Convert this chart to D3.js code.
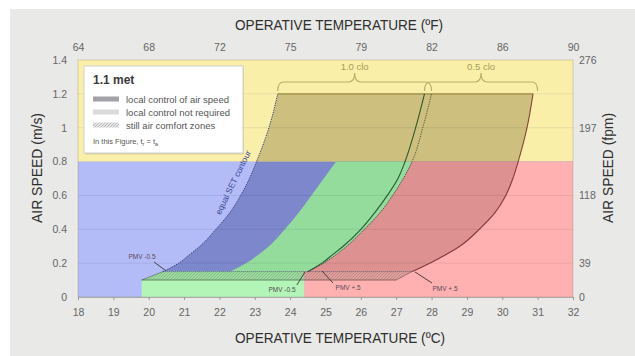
<!DOCTYPE html>
<html>
<head>
<meta charset="UTF-8">
<title>Operative temperature vs air speed</title>
<style>
  body { margin: 0; background: #fff; font-family: "Liberation Sans", Arial, sans-serif; }
  .axis text { fill: #666; font-size: 10.5px; font-family: "Liberation Sans", Arial, sans-serif; }
  .axis line { stroke: #999; }
  .title { fill: #2e2e2e; font-size: 14.5px; }
</style>
</head>
<body>
<svg id="chart" width="635" height="356"></svg>
<script src="https://cdnjs.cloudflare.com/ajax/libs/d3/7.8.5/d3.min.js"></script>
<script>
// ticks
const tempTicks = [18, 19, 20, 21, 22, 23, 24, 25, 26, 27, 28, 29, 30, 31, 32];
const fahrTicksC = [18, 20, 22, 24, 26, 28, 30, 32];
const fahrLabels = ["64", "68", "72", "75", "79", "82", "86", "90"];
const speedTicks = [0, 0.2, 0.4, 0.6, 0.8, 1, 1.2, 1.4];
const fpmTicks = [0, 0.2, 0.6, 1.0, 1.4];
const fpmLabels = ["0", "39", "118", "197", "276"];

// curves: [temperature degC, air speed m/s]
const setLeft10 = [[20.4, 0.15], [20.85, 0.2], [21.15, 0.25], [21.45, 0.3], [21.9, 0.4], [22.3, 0.5], [22.6, 0.6], [22.85, 0.7], [23.05, 0.8], [23.4, 1.0], [23.65, 1.2]];
const coldEdge = [[22.3, 0.15], [22.75, 0.2], [23.1, 0.25], [23.4, 0.3], [23.85, 0.4], [24.25, 0.5], [24.6, 0.6], [24.95, 0.7], [25.3, 0.8]];
const setRight10 = [[24.5, 0.15], [24.9, 0.2], [25.2, 0.25], [25.5, 0.3], [26.0, 0.4], [26.4, 0.5], [26.75, 0.6], [27.05, 0.7], [27.25, 0.8], [27.55, 1.0], [27.8, 1.2]];
const setLeft05 = [[24.5, 0.15], [24.95, 0.2], [25.3, 0.25], [25.6, 0.3], [26.1, 0.4], [26.55, 0.5], [26.9, 0.6], [27.2, 0.7], [27.45, 0.8], [27.75, 1.0], [28.0, 1.2]];
const setRight05 = [[27.45, 0.15], [27.95, 0.2], [28.4, 0.25], [28.8, 0.3], [29.35, 0.4], [29.8, 0.5], [30.1, 0.6], [30.3, 0.7], [30.45, 0.8], [30.7, 1.0], [30.87, 1.2]];
const stillAir = [[19.8, 0.1], [27.0, 0.1], [27.45, 0.15], [20.4, 0.15]];
const greenLow = [19.8, 24.4];
const limitSpeed = 0.8;

// brackets and annotations
const brackets = [
  { label: "1.0 clo", from: 23.65, to: 28.0 },
  { label: "0.5 clo", from: 27.8, to: 31.0 }
];
const pmvNotes = [
  { text: "PMV -0.5", at: [19.81, 0.236], from: [20.15, 0.207], tip: [20.49, 0.154] },
  { text: "PMV -0.5", at: [23.77, 0.041], from: [24.19, 0.071], tip: [24.42, 0.148] },
  { text: "PMV +.5", at: [25.64, 0.053], from: [25.21, 0.083], tip: [24.9, 0.154] },
  { text: "PMV +.5", at: [28.38, 0.047], from: [28.01, 0.083], tip: [27.53, 0.148] }
];

const svg = d3.select("#chart");
const x = d3.scaleLinear().domain([18, 32]).range([78, 573]);
const y = d3.scaleLinear().domain([0, 1.4]).range([297, 60]);

const line = d3.line().x(d => x(d[0])).y(d => y(d[1])).curve(d3.curveMonotoneY);
const seg = pts => line(pts).replace(/^M/, "L");
const pt = (t, v) => `${x(t)},${y(v)}`;
const upTo = (pts, v) => pts.filter(d => d[1] <= v);

// grey panel
svg.append("rect").attr("x", 10).attr("y", 9).attr("width", 625).attr("height", 347).attr("fill", "#e9e9e7");

const defs = svg.append("defs");
const pat = defs.append("pattern").attr("id", "hatch").attr("patternUnits", "userSpaceOnUse")
  .attr("width", 3).attr("height", 3);
pat.append("rect").attr("width", 3).attr("height", 3).attr("fill", "rgba(0,30,0,0.13)");
pat.append("path").attr("d", "M0,3L3,0M-1,1L1,-1M2,4L4,2").attr("stroke", "rgba(0,0,0,0.2)").attr("stroke-width", 0.6);

const lpat = defs.append("pattern").attr("id", "lhatch").attr("patternUnits", "userSpaceOnUse")
  .attr("width", 3).attr("height", 3);
lpat.append("rect").attr("width", 3).attr("height", 3).attr("fill", "#e4e4e4");
lpat.append("path").attr("d", "M0,3L3,0M-1,1L1,-1M2,4L4,2").attr("stroke", "#aaa").attr("stroke-width", 0.7);

// background regions
const bluePath = "M" + pt(18, 0) + "L" + pt(32, 0) + "L" + pt(32, limitSpeed) + "L" + pt(18, limitSpeed) + "Z";
const yellowPath = "M" + pt(18, limitSpeed) + "L" + pt(32, limitSpeed) + "L" + pt(32, 1.4) + "L" + pt(18, 1.4) + "Z";
const l05 = upTo(setLeft05, limitSpeed);
const greenPath = "M" + pt(greenLow[0], 0) + "L" + pt(greenLow[1], 0) + "L" + pt(greenLow[1], 0.15) +
  seg(l05) + seg(coldEdge.slice().reverse()) + "L" + pt(stillAir[3][0], 0.15) + "L" + pt(stillAir[0][0], 0.1) + "Z";
const redPath = "M" + pt(greenLow[1], 0) + "L" + pt(32, 0) + "L" + pt(32, limitSpeed) +
  seg(l05.slice().reverse()) + "L" + pt(greenLow[1], 0.15) + "Z";

const regions = [
  { d: bluePath, light: "#b4bcf7", dark: "#7c87cc" },
  { d: yellowPath, light: "#faefa9", dark: "#cdc07f" },
  { d: greenPath, light: "#b2f5b6", dark: "#93dc9c" },
  { d: redPath, light: "#ffb1b1", dark: "#dd9191" }
];
svg.append("g").selectAll("path").data(regions).join("path")
  .attr("d", d => d.d).attr("fill", d => d.light);

// zone where air speed is controlled locally
const zonePath = line(setLeft10) + seg(setRight05.slice().reverse()) + "Z";
defs.append("clipPath").attr("id", "zoneClip").append("path").attr("d", zonePath);
svg.append("g").attr("clip-path", "url(#zoneClip)").selectAll("path").data(regions).join("path")
  .attr("d", d => d.d).attr("fill", d => d.dark);

// grid
svg.append("g").selectAll("line").data(speedTicks.filter(v => v > 0 && v < 1.4)).join("line")
  .attr("x1", x(18)).attr("x2", x(32)).attr("y1", d => y(d)).attr("y2", d => y(d))
  .attr("stroke", "rgba(0,0,40,0.08)").attr("stroke-width", 1);

// still air band
svg.append("path").attr("d", "M" + stillAir.map(d => pt(d[0], d[1])).join("L") + "Z")
  .attr("fill", "url(#hatch)");
svg.append("path").attr("d", "M" + pt(stillAir[0][0], 0.1) + "L" + pt(stillAir[1][0], 0.1))
  .attr("stroke", "rgba(0,0,0,0.5)").attr("stroke-width", 0.8);
svg.append("path").attr("d", "M" + pt(stillAir[3][0], 0.15) + "L" + pt(stillAir[2][0], 0.15))
  .attr("stroke", "rgba(0,0,0,0.4)").attr("stroke-width", 0.7).attr("stroke-dasharray", "1,1");
svg.append("path").attr("d", "M" + pt(stillAir[0][0], 0.1) + "L" + pt(stillAir[3][0], 0.15) +
    "M" + pt(stillAir[1][0], 0.1) + "L" + pt(stillAir[2][0], 0.15))
  .attr("stroke", "rgba(0,0,0,0.45)").attr("stroke-width", 0.7);

// zone outlines
svg.append("path").attr("d", "M" + pt(setLeft10[setLeft10.length - 1][0], 1.2) + "L" + pt(setRight05[setRight05.length - 1][0], 1.2))
  .attr("stroke", "#9c8c45").attr("stroke-width", 1.2);
svg.append("path").attr("d", line(setLeft10)).attr("fill", "none")
  .attr("stroke", "#34407e").attr("stroke-width", 1).attr("stroke-dasharray", "1.3,1.1");
svg.append("path").attr("d", line(setRight10)).attr("fill", "none")
  .attr("stroke", "rgba(20,70,30,0.85)").attr("stroke-width", 1.1);
svg.append("path").attr("d", line(setLeft05)).attr("fill", "none")
  .attr("stroke", "rgba(40,50,30,0.8)").attr("stroke-width", 0.9).attr("stroke-dasharray", "1.3,1.1");
svg.append("path").attr("d", line(setRight05)).attr("fill", "none")
  .attr("stroke", "rgba(110,35,35,0.8)").attr("stroke-width", 1.1);

// plot frame
svg.append("rect").attr("x", x(18)).attr("y", y(1.4)).attr("width", x(32) - x(18)).attr("height", y(0) - y(1.4))
  .attr("fill", "none").attr("stroke", "rgba(120,110,60,0.25)");

// equal SET contour label
const a0 = [22.2, 0.44], a1 = [23.2, 0.87];
const ang = Math.atan2(y(a1[1]) - y(a0[1]), x(a1[0]) - x(a0[0])) * 180 / Math.PI;
svg.append("text").attr("transform", `translate(${x(22.62) - 4},${y(0.665)}) rotate(${ang})`)
  .attr("text-anchor", "middle").attr("dy", "-0.2em")
  .attr("font-size", 8.5).attr("fill", "#3b4898").text("equal SET contour");

// PMV notes
const notes = svg.append("g");
notes.selectAll("line").data(pmvNotes).join("line")
  .attr("x1", d => x(d.from[0])).attr("y1", d => y(d.from[1]))
  .attr("x2", d => x(d.tip[0])).attr("y2", d => y(d.tip[1]))
  .attr("stroke", "#3a3030").attr("stroke-width", 0.9);
notes.selectAll("text").data(pmvNotes).join("text")
  .attr("x", d => x(d.at[0])).attr("y", d => y(d.at[1])).attr("dy", "0.35em")
  .attr("text-anchor", "middle").attr("font-size", 6.5).attr("fill", "#5a4a55").text(d => d.text);

// brackets
const brk = svg.append("g");
brackets.forEach(b => {
  const x0 = x(b.from), x1 = x(b.to), xm = (x0 + x1) / 2;
  const yb = 82, ye = 91, yc = 73;
  brk.append("path")
    .attr("d", `M${x0},${ye}Q${x0},${yb} ${x0 + 6},${yb}L${xm - 6},${yb}Q${xm},${yb} ${xm},${yc}Q${xm},${yb} ${xm + 6},${yb}L${x1 - 6},${yb}Q${x1},${yb} ${x1},${ye}`)
    .attr("fill", "none").attr("stroke", "#bcae66").attr("stroke-width", 1.2);
  brk.append("text").attr("x", xm).attr("y", 70).attr("text-anchor", "middle")
    .attr("font-size", 9.5).attr("fill", "#a99b58").text(b.label);
});

// axes
const axBottom = svg.append("g").attr("class", "axis").attr("transform", `translate(0,${y(0)})`)
  .call(d3.axisBottom(x).tickValues(tempTicks).tickSize(3).tickPadding(9).tickFormat(d3.format("d")));
axBottom.select(".domain").attr("stroke", "#aaa");

const axTop = svg.append("g").attr("class", "axis").attr("transform", `translate(0,${y(1.4)})`)
  .call(d3.axisTop(x).tickValues(fahrTicksC).tickSize(0).tickPadding(9).tickFormat((d, i) => fahrLabels[i]));
axTop.select(".domain").remove();

const axLeft = svg.append("g").attr("class", "axis").attr("transform", `translate(${x(18)},0)`)
  .call(d3.axisLeft(y).tickValues(speedTicks).tickSize(0).tickPadding(11).tickFormat(d => d3.format("~g")(d)));
axLeft.select(".domain").remove();

const axRight = svg.append("g").attr("class", "axis").attr("transform", `translate(${x(32)},0)`)
  .call(d3.axisRight(y).tickValues(fpmTicks).tickSize(0).tickPadding(6).tickFormat((d, i) => fpmLabels[i]));
axRight.select(".domain").remove();

// titles
svg.append("text").attr("class", "title").attr("x", 339).attr("y", 30).attr("text-anchor", "middle")
  .attr("textLength", 208).attr("lengthAdjust", "spacingAndGlyphs").text("OPERATIVE TEMPERATURE (ºF)");
svg.append("text").attr("class", "title").attr("x", 340).attr("y", 343).attr("text-anchor", "middle")
  .attr("textLength", 210).attr("lengthAdjust", "spacingAndGlyphs").text("OPERATIVE TEMPERATURE (ºC)");
svg.append("text").attr("class", "title").attr("transform", "translate(42,168) rotate(-90)").attr("text-anchor", "middle")
  .attr("textLength", 110).attr("lengthAdjust", "spacingAndGlyphs").text("AIR SPEED (m/s)");
svg.append("text").attr("class", "title").attr("transform", "translate(613,168) rotate(-90)").attr("text-anchor", "middle")
  .attr("textLength", 110).attr("lengthAdjust", "spacingAndGlyphs").text("AIR SPEED (fpm)");

// legend
const lg = svg.append("g").attr("transform", "translate(84,66)");
lg.append("rect").attr("x", 1).attr("y", 1.5).attr("width", 159).attr("height", 87).attr("fill", "rgba(0,0,0,0.12)");
lg.append("rect").attr("width", 159).attr("height", 87).attr("fill", "#fff").attr("stroke", "#d0d0d0");
lg.append("text").attr("x", 9).attr("y", 18).attr("font-size", 12).attr("font-weight", "bold").attr("fill", "#3a3a3a").text("1.1 met");
const legendItems = [
  { label: "local control of air speed", fill: "#a2a2a8" },
  { label: "local control not required", fill: "#dadada" },
  { label: "still air comfort zones", fill: "url(#lhatch)" }
];
legendItems.forEach((d, i) => {
  lg.append("rect").attr("x", 9).attr("y", 30.5 + i * 13).attr("width", 26).attr("height", 5).attr("fill", d.fill);
  lg.append("text").attr("x", 42).attr("y", 36.5 + i * 13).attr("font-size", 9.5).attr("fill", "#555").text(d.label);
});
const note = lg.append("text").attr("x", 9).attr("y", 78).attr("font-size", 7.5).attr("fill", "#555");
note.append("tspan").text("In this Figure, t");
note.append("tspan").attr("font-size", 5.5).attr("dy", 2).text("r");
note.append("tspan").attr("dy", -2).text(" = t");
note.append("tspan").attr("font-size", 5.5).attr("dy", 2).text("a");
</script>
</body>
</html>
